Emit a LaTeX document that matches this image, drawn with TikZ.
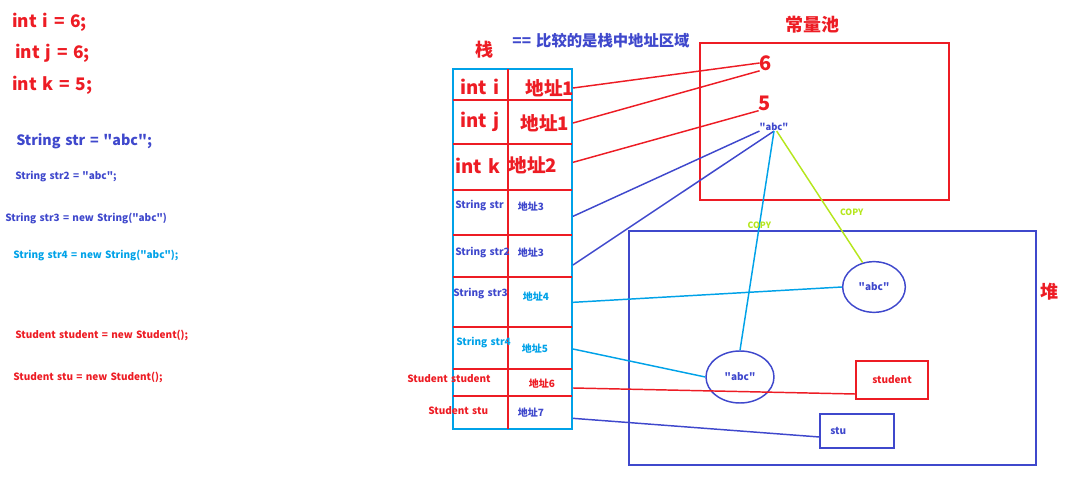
\documentclass[tikz,border=0pt]{standalone}
\usepackage{fontspec}
\setmainfont{Noto Sans CJK SC}[Ligatures=TeXOff, WordSpace=1.45]
\usetikzlibrary{shapes.geometric}
\definecolor{pred}{HTML}{ED1C24}
\definecolor{pblue}{HTML}{3F48CC}
\definecolor{pcyan}{HTML}{00A2E8}
\definecolor{plime}{HTML}{B5E61D}
\begin{document}
\begin{tikzpicture}[x=0.75pt, y=-0.75pt,
        code/.style={anchor=west, inner sep=0pt, font=\bfseries\fontsize{7.5}{9}\selectfont},
        bigcode/.style={anchor=west, inner sep=0pt, font=\bfseries\fontsize{13}{15}\selectfont, pred},
        cell/.style={inner sep=0pt, font=\bfseries\fontsize{7.5}{9}\selectfont},
        bigcell/.style={inner sep=0pt, font=\bfseries\fontsize{14}{16}\selectfont, pred},
        title/.style={inner sep=0pt, font=\bfseries\fontsize{13.5}{15}\selectfont, pred},
        link/.style={line width=1.1pt},
        obj/.style={ellipse, draw, line width=1.1pt, inner sep=0pt, font=\bfseries\fontsize{7.5}{9}\selectfont}]
    \useasboundingbox (0,0) rectangle (1068,477);

    % Code
    \node[bigcode] (ci) at (12,22) {int i = 6;};
    \node[bigcode] (cj) at (15,53) {int j = 6;};
    \node[bigcode] (ck) at (12,85) {int k = 5;};
    \node[code, pblue, font=\bfseries\fontsize{10.7}{13}\selectfont] (cs1) at (16,141) {String str = "abc";};
    \node[code, pblue] (cs2) at (15,177) {String str2 = "abc";};
    \node[code, pblue] (cs3) at (5,218) {String str3 = new String("abc")};
    \node[code, pcyan] (cs4) at (13,255) {String str4 = new String("abc");};
    \node[code, pred] (cst1) at (15,335) {Student student = new Student();};
    \node[code, pred] (cst2) at (13,377) {Student stu = new Student();};

    % Stack
    \node[title] (stacktitle) at (484,50) {栈};
    \node[inner sep=0pt, pblue, font=\bfseries\fontsize{11.5}{13}\selectfont] (note) at (601,41) {== 比较的是栈中地址区域};
    \node[draw=pcyan, line width=1.5pt, minimum width=89.25pt, minimum height=270pt, inner sep=0pt] (stack) at (512.5,249) {};
    \draw[pred, line width=1.1pt] (508,69) -- (508,429);
    \foreach \y in {100,144,190,235,277,327,369,396}
        \draw[pred, line width=1.1pt] (453,\y) -- (572,\y);

    \node[bigcell] (ni) at (480,87) {int i};
    \node[bigcell] (ai) at (550,88) {地址1};
    \node[bigcell] (nj) at (480,122) {int j};
    \node[bigcell] (aj) at (545,123) {地址1};
    \node[bigcell] (nk) at (478,166) {int k};
    \node[bigcell] (ak) at (533,165) {地址2};
    \node[cell, pblue, anchor=west] (ns1) at (455,206) {String str};
    \node[cell, pblue] (as1) at (531,207) {地址3};
    \node[cell, pblue, anchor=west] (ns2) at (455,253) {String str2};
    \node[cell, pblue] (as2) at (531,253) {地址3};
    \node[cell, pblue, anchor=west] (ns3) at (453,294) {String str3};
    \node[cell, pcyan] (as3) at (536,297) {地址4};
    \node[cell, pcyan, anchor=west] (ns4) at (456,343) {String str4};
    \node[cell, pcyan] (as4) at (535,349) {地址5};
    \node[cell, pred, anchor=west] (nst1) at (407,379) {Student student};
    \node[cell, pred] (ast1) at (542,384) {地址6};
    \node[cell, pred, anchor=west] (nst2) at (428,411) {Student stu};
    \node[cell, pblue] (ast2) at (531,413) {地址7};

    % Constant pool
    \node[title] (pooltitle) at (812,25) {常量池};
    \draw[pred, line width=1.5pt] (700,43) rectangle (949,200);
    \node[inner sep=0pt, pred, font=\bfseries\fontsize{15}{17}\selectfont] (six) at (766,63) {6};
    \node[inner sep=0pt, pred, font=\bfseries\fontsize{15}{17}\selectfont] (five) at (765,103) {5};
    \node[inner sep=0pt, pblue, font=\bfseries\fontsize{7}{8}\selectfont] (abc) at (774,127) {"abc"};

    % Heap
    \node[title, anchor=west] (heaptitle) at (1040,292) {堆};
    \draw[pblue, line width=1.5pt] (629,231) rectangle (1036,465);
    \node[obj, draw=pblue, pblue, minimum width=47pt, minimum height=38pt] (obj1) at (874,287) {"abc"};
    \node[obj, draw=pcyan, pblue, minimum width=51pt, minimum height=39pt] (obj2) at (740,377) {"abc"};
    \node[draw=pred, pred, line width=1.3pt, minimum width=54pt, minimum height=28.5pt, inner sep=0pt, font=\bfseries\fontsize{7.5}{9}\selectfont] (stud) at (892,380) {student};
    \node[draw=pblue, pblue, line width=1.3pt, minimum width=55pt, minimum height=25.5pt, inner sep=0pt, font=\bfseries\fontsize{7.5}{9}\selectfont, text width=40pt] (stu) at (857,431) {stu};

    % Links
    \draw[link, pred] (ai -| stack.east) -- (six.west);
    \draw[link, pred] (aj -| stack.east) -- (six.south west);
    \draw[link, pred] ([yshift=2pt]ak -| stack.east) -- (five.south west);
    \draw[link, pblue] ([yshift=-7pt]as1 -| stack.east) -- (abc.south west);
    \draw[link, pblue] ([yshift=-9pt]as2 -| stack.east) -- (abc.south);
    \draw[link, pcyan] ([yshift=-4pt]as3 -| stack.east) -- (obj1.west);
    \draw[link, pcyan] (as4 -| stack.east) -- (obj2.west);
    \draw[link, pred] ([yshift=-3pt]ast1 -| stack.east) -- (stud.west |- 0,394);
    \draw[link, pblue] ([yshift=-4pt]ast2 -| stack.east) -- (stu.west |- 0,437);
    \draw[link, pcyan] (abc.south) -- node[pos=0.43, inner sep=0pt, plime, font=\bfseries\fontsize{6.5}{8}\selectfont] (copy1) {COPY} (obj2.north);
    \draw[link, plime] ([xshift=2pt]abc.south) -- node[pos=0.62, right=7pt, inner sep=0pt, plime, font=\bfseries\fontsize{6.5}{8}\selectfont] (copy2) {COPY} (obj1.115);
\end{tikzpicture}
\end{document}
